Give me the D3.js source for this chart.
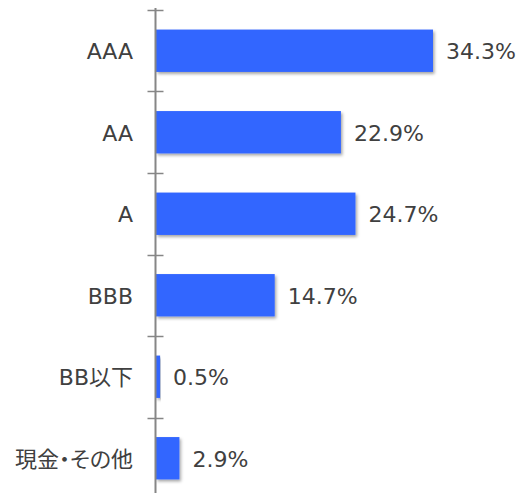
<!DOCTYPE html>
<html>
<head>
<meta charset="utf-8">
<script src="https://cdn.jsdelivr.net/npm/d3@7"></script>
<style>
  html, body { margin: 0; padding: 0; background: #fff; }
  svg text { font-family: "DejaVu Sans", Verdana, "Noto Sans CJK JP", sans-serif; font-feature-settings: "palt"; }
</style>
</head>
<body>
<svg width="523" height="493"></svg>
<script>
const categories = ['AAA', 'AA', 'A', 'BBB', 'BB以下', '現金・その他'];
const shares = [34.3, 22.9, 24.7, 14.7, 0.5, 2.9];
const valueLabels = ['34.3%', '22.9%', '24.7%', '14.7%', '0.5%', '2.9%'];

const width = 523;
const height = 493;
const margin = { left: 156, top: 10 };
const bandBottom = 499;

const svg = d3.select('svg');

const defs = svg.append('defs');
defs.append('filter')
  .attr('id', 'bar-shadow')
  .attr('x', '-10%').attr('y', '-20%')
  .attr('width', '130%').attr('height', '150%')
  .append('feDropShadow')
    .attr('dx', 1.5)
    .attr('dy', 2)
    .attr('stdDeviation', 1.5)
    .attr('flood-color', '#000')
    .attr('flood-opacity', 0.35);

const yScale = d3.scaleBand(categories, [margin.top, bandBottom])
  .paddingInner(0.48)
  .paddingOuter(0.24);

// 34.3% spans roughly 277px
const xScale = d3.scaleLinear([0, 34.3], [margin.left, 433]);

const rows = categories.map((c, i) => ({ name: c, value: shares[i], label: valueLabels[i] }));

// bars
svg.append('g')
  .selectAll('rect')
  .data(rows)
  .join('rect')
    .attr('x', xScale(0))
    .attr('y', (d) => yScale(d.name))
    .attr('width', (d) => xScale(d.value) - xScale(0))
    .attr('height', yScale.bandwidth())
    .attr('fill', '#3366ff')
    .attr('filter', 'url(#bar-shadow)');

// value labels
svg.append('g')
  .selectAll('text')
  .data(rows)
  .join('text')
    .text((d) => d.label)
    .attr('x', (d) => xScale(d.value) + 13)
    .attr('y', (d) => yScale(d.name) + yScale.bandwidth() / 2 + 1)
    .attr('dominant-baseline', 'central')
    .attr('fill', '#404040')
    .style('font-size', '22px');

// category axis (labels only)
const yAxis = d3.axisLeft(yScale).tickSize(0).tickPadding(23);
svg.append('g')
  .attr('class', 'y-axis')
  .attr('transform', `translate(${margin.left}, 0)`)
  .call(yAxis)
  .call((g) => g.select('.domain').remove())
  .selectAll('text')
    .attr('fill', '#404040')
    .attr('dy', null)
    .attr('y', 1)
    .attr('dominant-baseline', 'central')
    .style('font-size', '22px');

// axis line with boundary ticks crossing it
const boundaryScale = d3.scaleLinear([0, categories.length], [margin.top, bandBottom]);
const axisG = svg.append('g').attr('stroke', '#868686');
axisG.append('line')
  .attr('x1', margin.left - 0.5)
  .attr('x2', margin.left - 0.5)
  .attr('y1', margin.top - 2)
  .attr('y2', bandBottom)
  .attr('stroke-width', 2);
axisG.selectAll('.tick-line')
  .data(d3.range(categories.length + 1))
  .join('line')
    .attr('class', 'tick-line')
    .attr('x1', margin.left - 8.5)
    .attr('x2', margin.left + 7.5)
    .attr('y1', (d) => Math.round(boundaryScale(d)) + 0.5)
    .attr('y2', (d) => Math.round(boundaryScale(d)) + 0.5)
    .attr('stroke-width', 1.5);
</script>
</body>
</html>
